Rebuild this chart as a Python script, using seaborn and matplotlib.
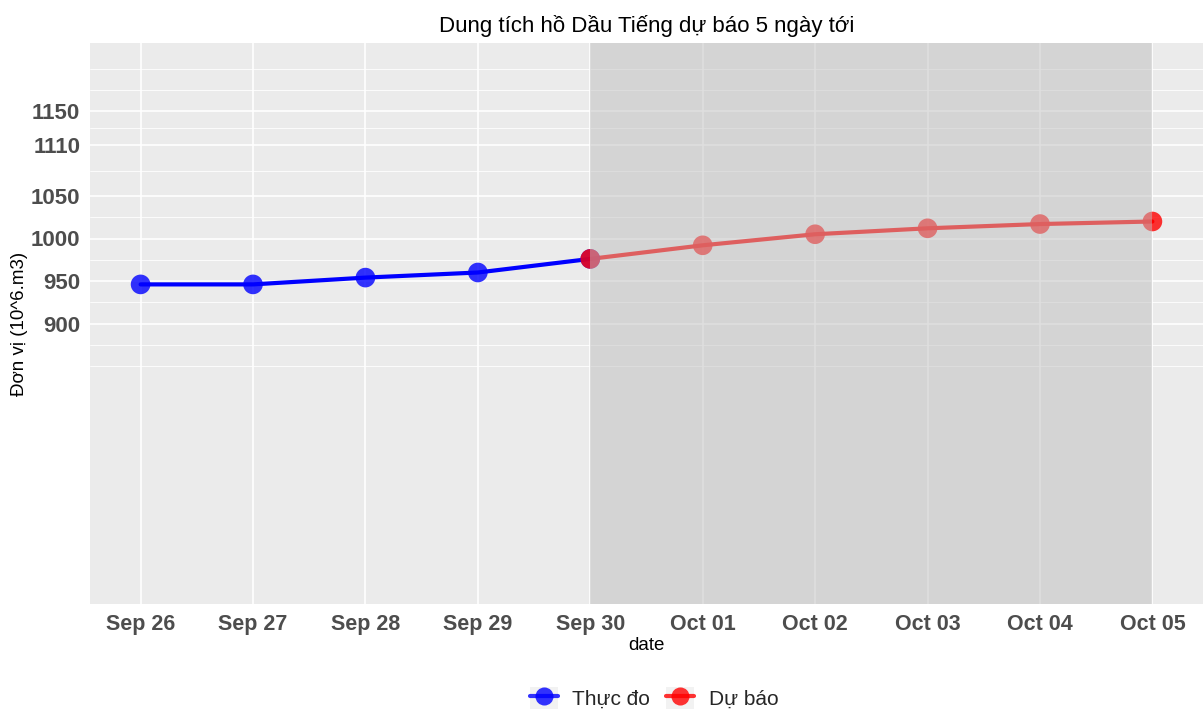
import numpy as np
import pandas as pd
import matplotlib
matplotlib.use("Agg")
import matplotlib.pyplot as plt
import matplotlib.dates as mdates
import seaborn as sns
from matplotlib.lines import Line2D
from matplotlib.patches import Patch
from matplotlib.legend_handler import HandlerTuple

# observed and forecast series
obs_dates = ["2023-09-26", "2023-09-27", "2023-09-28", "2023-09-29", "2023-09-30"]
obs_values = [946, 946, 954, 960, 976]
fc_dates = ["2023-09-30", "2023-10-01", "2023-10-02", "2023-10-03", "2023-10-04", "2023-10-05"]
fc_values = [976, 992, 1005, 1012, 1017, 1020]

y_ticks = [900, 950, 1000, 1050, 1110, 1150]
y_minor = [850, 875, 925, 975, 1025, 1080, 1130, 1175, 1200]

obs = pd.DataFrame({"date": pd.to_datetime(obs_dates), "value": obs_values, "type": "Thực đo"})
fc = pd.DataFrame({"date": pd.to_datetime(fc_dates), "value": fc_values, "type": "Dự báo"})

sns.set_theme(style="white")
plt.rcParams["font.family"] = ["Liberation Sans", "DejaVu Sans"]

fig = plt.figure(figsize=(12.03, 7.11), dpi=100)
ax = fig.add_axes([90 / 1203, 1 - 604 / 711, 1 - 90 / 1203, (604 - 43) / 711])
ax.set_facecolor("#EBEBEB")
for s in ax.spines.values():
    s.set_visible(False)

blue = "#0000FF"
red = "#FF0000"

sns.lineplot(data=obs, x="date", y="value", color=blue, lw=3, ax=ax, zorder=3)
sns.lineplot(data=fc, x="date", y="value", color=red, lw=3, ax=ax, zorder=3)
sns.scatterplot(data=obs, x="date", y="value", color=blue, s=200, alpha=0.8,
                edgecolor="none", ax=ax, zorder=4)
sns.scatterplot(data=fc, x="date", y="value", color=red, s=200, alpha=0.8,
                edgecolor="none", ax=ax, zorder=4)

# forecast window shading drawn over the marks
ax.axvspan(fc["date"].iloc[0], fc["date"].iloc[-1], color="#BFBFBF", alpha=0.5,
           lw=0, zorder=5)

all_dates = pd.to_datetime(obs_dates[:-1] + fc_dates)
pad = pd.Timedelta(hours=0.45 * 24)
ax.set_xlim(all_dates[0] - pad, all_dates[-1] + pad)
ax.set_ylim(570, 1230)

ax.set_xticks(all_dates)
ax.xaxis.set_major_formatter(mdates.DateFormatter("%b %d"))
ax.set_yticks(y_ticks)
ax.set_yticks(y_minor, minor=True)

ax.grid(True, which="major", color="white", lw=1.2, zorder=0)
ax.grid(True, which="minor", axis="y", color="white", lw=0.6, zorder=0)
ax.set_axisbelow(True)

ax.tick_params(axis="both", which="major", length=4, width=1.1, color="#333333",
               labelcolor="#4D4D4D", pad=3)
ax.tick_params(axis="x", which="major", labelsize=15.5)
ax.tick_params(axis="y", which="major", labelsize=16)
ax.tick_params(axis="y", which="minor", length=0)
for lab in ax.get_xticklabels() + ax.get_yticklabels():
    lab.set_fontweight("bold")

ax.set_xlabel("date", fontsize=13.5, color="black", labelpad=2)
ax.set_ylabel("Đơn vị (10^6.m3)", fontsize=13.5, color="black", labelpad=2)
ax.set_title("Dung tích hồ Dầu Tiếng dự báo 5 ngày tới", fontsize=16, color="black", pad=8)

key_bg = "#F2F2F2"
handles = [
    (Patch(facecolor=key_bg, edgecolor="none"),
     Line2D([], [], color=blue, lw=3, marker="o", markersize=13, alpha=0.8, markeredgewidth=0)),
    (Patch(facecolor=key_bg, edgecolor="none"),
     Line2D([], [], color=red, lw=3, marker="o", markersize=13, alpha=0.8, markeredgewidth=0)),
]
fig.legend(handles, ["Thực đo", "Dự báo"], loc="center", bbox_to_anchor=(654 / 1203, 1 - 698 / 711),
           ncol=2, frameon=False, fontsize=15, handler_map={tuple: HandlerTuple(ndivide=1)},
           handlelength=1.35, handleheight=1.2, columnspacing=0.75, handletextpad=0.7)

fig.savefig("out.png", dpi=100)
